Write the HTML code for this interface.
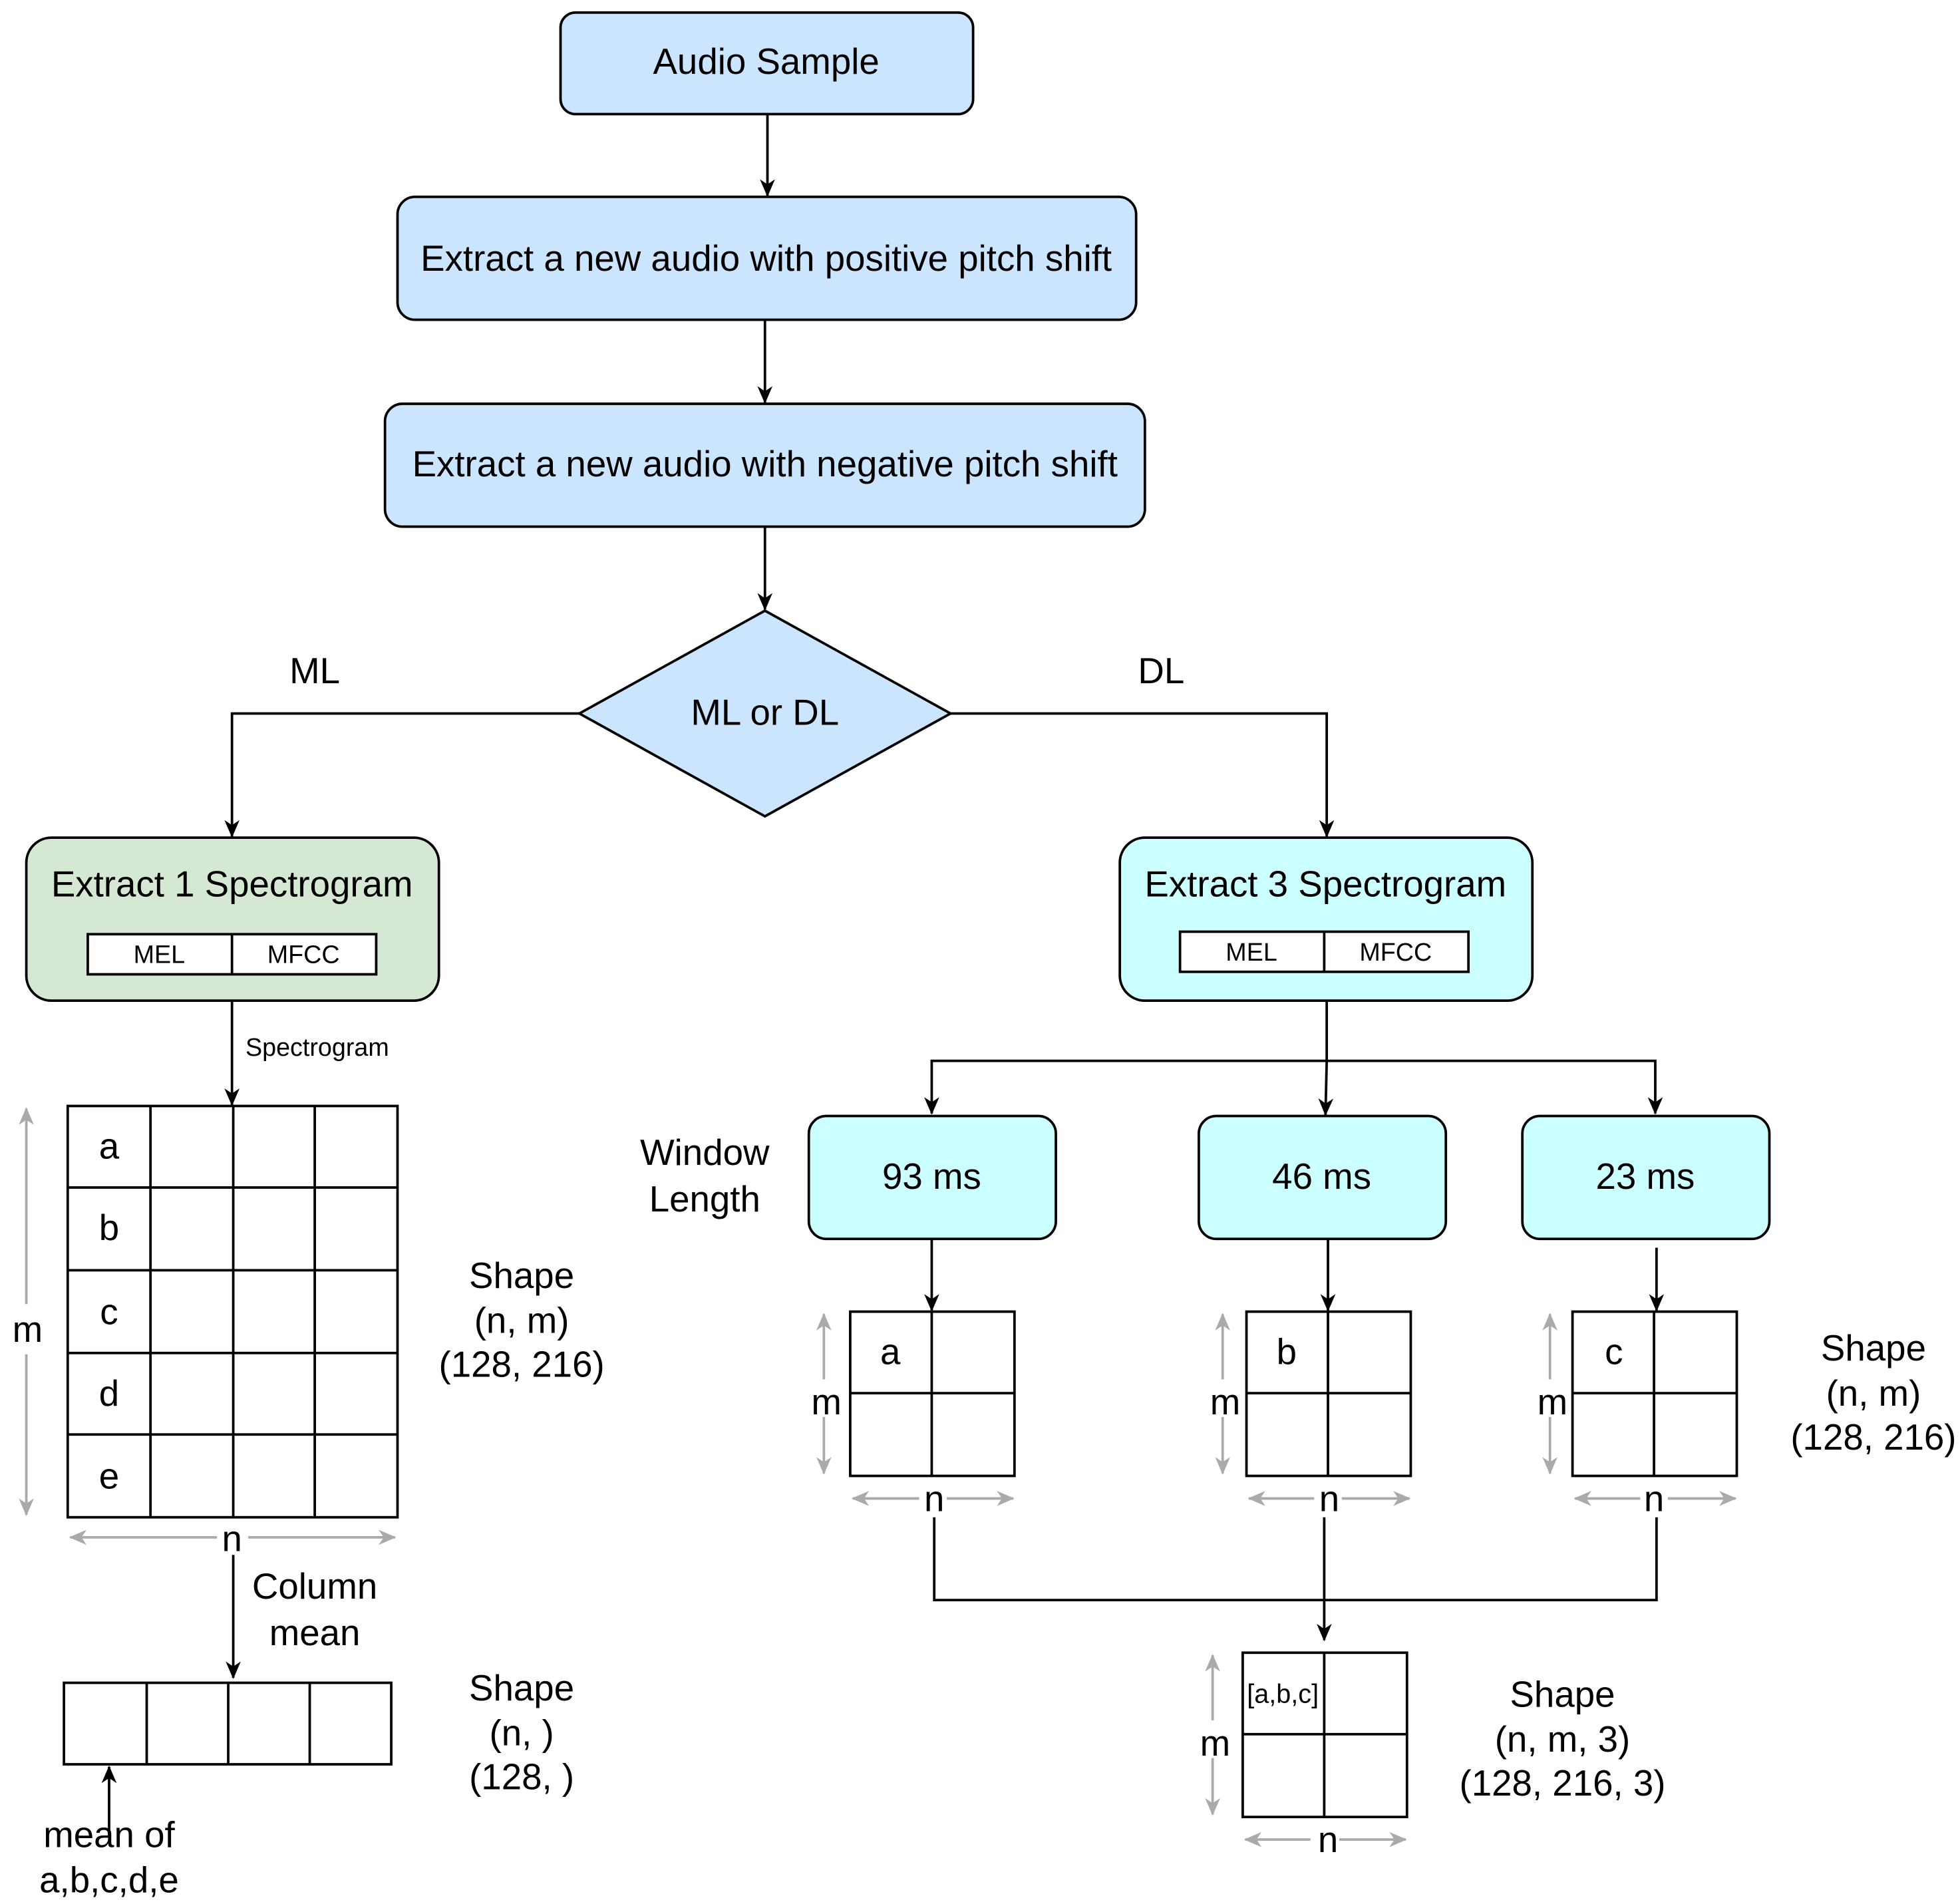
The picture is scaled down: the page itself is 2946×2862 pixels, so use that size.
<!DOCTYPE html>
<html><head><meta charset="utf-8"><style>
html,body{margin:0;padding:0;background:#fff;}
svg{display:block;}
text{font-family:"Liberation Sans",Arial,sans-serif;fill:#000;}
</style></head><body>
<svg width="2946" height="2862" viewBox="0 0 1563 1518.4" preserveAspectRatio="none" xmlns="http://www.w3.org/2000/svg">
<defs>
<marker id="a" markerWidth="14" markerHeight="14" refX="13" refY="7" orient="auto" markerUnits="userSpaceOnUse"><path d="M0,1 L14,7 L0,13 L4,7 z" fill="#000"/></marker>
<marker id="g" markerWidth="14" markerHeight="14" refX="13" refY="7" orient="auto-start-reverse" markerUnits="userSpaceOnUse"><path d="M0,1 L14,7 L0,13 L4,7 z" fill="#aaa"/></marker>
</defs>
<g stroke="#000" stroke-width="2" fill="none">
<rect x="447" y="10" width="329" height="81" rx="12" fill="#cce5ff"/>
<rect x="317" y="157" width="589" height="98" rx="14" fill="#cce5ff"/>
<rect x="307" y="322" width="606" height="98" rx="14" fill="#cce5ff"/>
<polygon points="610,487 758,569 610,651 462,569" fill="#cce5ff"/>
<rect x="21" y="668" width="329" height="130" rx="20" fill="#d5e8d4"/>
<rect x="893" y="668" width="329" height="130" rx="20" fill="#ccffff"/>
<rect x="70" y="745" width="230" height="32" fill="#fff"/><line x1="185" y1="745" x2="185" y2="777"/>
<rect x="941" y="743" width="230" height="32" fill="#fff"/><line x1="1056" y1="743" x2="1056" y2="775"/>
<rect x="645" y="890" width="197" height="98" rx="14" fill="#ccffff"/>
<rect x="956" y="890" width="197" height="98" rx="14" fill="#ccffff"/>
<rect x="1214" y="890" width="197" height="98" rx="14" fill="#ccffff"/>
<line x1="612" y1="91" x2="612" y2="156" marker-end="url(#a)"/>
<line x1="610" y1="255" x2="610" y2="321" marker-end="url(#a)"/>
<line x1="610" y1="420" x2="610" y2="486" marker-end="url(#a)"/>
<polyline points="462,569 185,569 185,667" marker-end="url(#a)"/>
<polyline points="758,569 1058,569 1058,667" marker-end="url(#a)"/>
<line x1="185" y1="798" x2="185" y2="881" marker-end="url(#a)"/>
<line x1="1058" y1="798" x2="1058" y2="846"/>
<polyline points="1058,846 743,846 743,888" marker-end="url(#a)"/>
<polyline points="1058,846 1320,846 1320,888" marker-end="url(#a)"/>
<line x1="1058" y1="846" x2="1057" y2="889" marker-end="url(#a)"/>
<line x1="743" y1="988" x2="743" y2="1045" marker-end="url(#a)"/>
<line x1="1059" y1="988" x2="1059" y2="1045" marker-end="url(#a)"/>
<line x1="1321" y1="995" x2="1321" y2="1045" marker-end="url(#a)"/>
<polyline points="745,1210 745,1276 1321,1276 1321,1210"/>
<line x1="1056" y1="1210" x2="1056" y2="1308" marker-end="url(#a)"/>
<line x1="186" y1="1240" x2="186" y2="1338" marker-end="url(#a)"/>
<line x1="87" y1="1465" x2="87" y2="1409" marker-end="url(#a)"/>
<rect x="54" y="882" width="263" height="328"/>
<line x1="120" y1="882" x2="120" y2="1210"/><line x1="186" y1="882" x2="186" y2="1210"/><line x1="251" y1="882" x2="251" y2="1210"/>
<line x1="54" y1="947" x2="317" y2="947"/><line x1="54" y1="1013" x2="317" y2="1013"/><line x1="54" y1="1079" x2="317" y2="1079"/><line x1="54" y1="1144" x2="317" y2="1144"/>
<rect x="51" y="1342" width="261" height="65"/>
<line x1="117" y1="1342" x2="117" y2="1407"/><line x1="182" y1="1342" x2="182" y2="1407"/><line x1="247" y1="1342" x2="247" y2="1407"/>
<rect x="678" y="1046" width="131" height="131"/><line x1="743" y1="1046" x2="743" y2="1177"/><line x1="678" y1="1111" x2="809" y2="1111"/>
<rect x="994" y="1046" width="131" height="131"/><line x1="1059" y1="1046" x2="1059" y2="1177"/><line x1="994" y1="1111" x2="1125" y2="1111"/>
<rect x="1254" y="1046" width="131" height="131"/><line x1="1319" y1="1046" x2="1319" y2="1177"/><line x1="1254" y1="1111" x2="1385" y2="1111"/>
<rect x="991" y="1318" width="131" height="131"/><line x1="1056" y1="1318" x2="1056" y2="1449"/><line x1="991" y1="1383" x2="1122" y2="1383"/>
</g>
<g stroke="#aaa" stroke-width="2" fill="none">
<line x1="21" y1="884" x2="21" y2="1040" marker-start="url(#g)"/><line x1="21" y1="1080" x2="21" y2="1208" marker-end="url(#g)"/>
<line x1="56" y1="1226" x2="173" y2="1226" marker-start="url(#g)"/><line x1="198" y1="1226" x2="315" y2="1226" marker-end="url(#g)"/>
<line x1="657" y1="1048" x2="657" y2="1100" marker-start="url(#g)"/><line x1="657" y1="1130" x2="657" y2="1175" marker-end="url(#g)"/>
<line x1="680" y1="1195" x2="733" y2="1195" marker-start="url(#g)"/><line x1="755" y1="1195" x2="808" y2="1195" marker-end="url(#g)"/>
<line x1="975" y1="1048" x2="975" y2="1100" marker-start="url(#g)"/><line x1="975" y1="1130" x2="975" y2="1175" marker-end="url(#g)"/>
<line x1="996" y1="1195" x2="1048" y2="1195" marker-start="url(#g)"/><line x1="1070" y1="1195" x2="1124" y2="1195" marker-end="url(#g)"/>
<line x1="1236" y1="1048" x2="1236" y2="1100" marker-start="url(#g)"/><line x1="1236" y1="1130" x2="1236" y2="1175" marker-end="url(#g)"/>
<line x1="1256" y1="1195" x2="1308" y2="1195" marker-start="url(#g)"/><line x1="1330" y1="1195" x2="1384" y2="1195" marker-end="url(#g)"/>
<line x1="967" y1="1320" x2="967" y2="1372" marker-start="url(#g)"/><line x1="967" y1="1402" x2="967" y2="1447" marker-end="url(#g)"/>
<line x1="993" y1="1467" x2="1045" y2="1467" marker-start="url(#g)"/><line x1="1068" y1="1467" x2="1121" y2="1467" marker-end="url(#g)"/>
</g>
<g font-size="29" text-anchor="middle">
<text x="611" y="59">Audio Sample</text>
<text x="611" y="216">Extract a new audio with positive pitch shift</text>
<text x="610" y="380">Extract a new audio with negative pitch shift</text>
<text x="610" y="578">ML or DL</text>
<text x="251" y="545">ML</text>
<text x="926" y="545">DL</text>
<text x="185" y="715">Extract 1 Spectrogram</text>
<text x="1057" y="715">Extract 3 Spectrogram</text>
<text x="743" y="948">93 ms</text>
<text x="1054" y="948">46 ms</text>
<text x="1312" y="948">23 ms</text>
<text x="562" y="929">Window</text>
<text x="562" y="966">Length</text>
<text x="87" y="924">a</text><text x="87" y="989">b</text><text x="87" y="1056">c</text><text x="87" y="1121">d</text><text x="87" y="1187">e</text>
<text x="22" y="1070">m</text>
<text x="185" y="1237">n</text>
<text x="251" y="1275">Column</text><text x="251" y="1312">mean</text>
<text x="416" y="1027">Shape</text><text x="416" y="1063">(n, m)</text><text x="416" y="1098">(128, 216)</text>
<text x="416" y="1356">Shape</text><text x="416" y="1392">(n, )</text><text x="416" y="1427">(128, )</text>
<text x="87" y="1473">mean of</text><text x="87" y="1509">a,b,c,d,e</text>
<text x="710" y="1088">a</text><text x="1026" y="1088">b</text><text x="1287" y="1088">c</text>
<text x="659" y="1128">m</text><text x="977" y="1128">m</text><text x="1238" y="1128">m</text>
<text x="745" y="1205">n</text><text x="1060" y="1205">n</text><text x="1319" y="1205">n</text>
<text x="969" y="1400">m</text><text x="1059" y="1477">n</text>
<text x="1494" y="1085">Shape</text><text x="1494" y="1121">(n, m)</text><text x="1494" y="1156">(128, 216)</text>
<text x="1246" y="1361">Shape</text><text x="1246" y="1397">(n, m, 3)</text><text x="1246" y="1432">(128, 216, 3)</text>
</g>
<g font-size="20" text-anchor="middle">
<text x="127" y="768">MEL</text><text x="242" y="768">MFCC</text>
<text x="998" y="766">MEL</text><text x="1113" y="766">MFCC</text>
<text x="253" y="842">Spectrogram</text>
<text x="1023" y="1358" font-size="21">[a,b,c]</text>
</g>
</svg>
</body></html>
